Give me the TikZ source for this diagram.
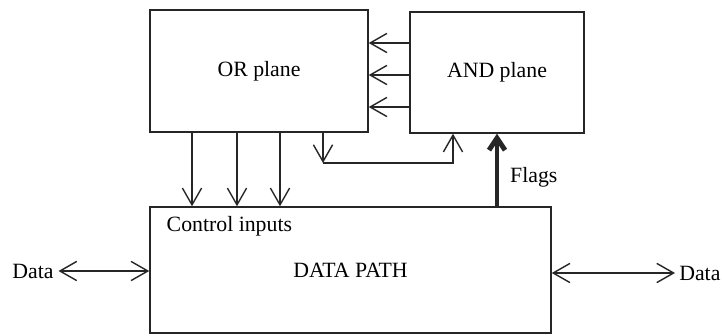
\documentclass[tikz,border=0pt]{standalone}
\usepackage{fontspec}
\setmainfont{Liberation Serif}
\usetikzlibrary{positioning,arrows.meta}

\begin{document}
\begin{tikzpicture}[
  x=0.025cm, y=-0.025cm,
  font=\fontsize{15.5}{17}\selectfont,
  every node/.style={align=center},
  blk/.style   ={rectangle, draw=black!85, line width=1pt, inner sep=0pt},
  arr/.style   ={-{Straight Barb[length=4.2mm,width=4.8mm]}, line width=1pt, draw=black!85},
  darr/.style  ={{Straight Barb[length=4.2mm,width=4.8mm]}-{Straight Barb[length=4.2mm,width=4.8mm]},
                 line width=1pt, draw=black!85},
  flag/.style  ={-{Straight Barb[length=3mm,width=4mm]}, line width=3.5pt, draw=black!85},
]
\useasboundingbox (0,0) rectangle (722,335);

% The three blocks
\node[blk, minimum width=5.45cm, minimum height=3.05cm]  (orp) at (259,71)    {OR plane};
\node[blk, minimum width=4.35cm, minimum height=3.025cm] (andp) at (497,72.5) {AND plane};
\node[blk, minimum width=10.025cm, minimum height=3.15cm] (dp) at (350.5,270) {DATA PATH};

\node[anchor=north west, inner sep=0pt] (ctl) at ([xshift=4.3mm,yshift=-2.5mm]dp.north west) {Control inputs};

% Data terminals
\node (dl) at (33,271) {Data};
\node[anchor=west, inner sep=0pt] (dr) at (679,273) {Data};

% AND plane to OR plane
\foreach \y in {43,75,107}
  \draw[arr] (andp.west |- 0,\y) -- (orp.east |- 0,\y);

% OR plane to control inputs
\foreach \x in {192,237,280}
  \draw[arr] (orp.south -| \x,0) -- (dp.north -| \x,0);

% feedback from OR plane back into AND plane
\coordinate (fb1) at (323,163);
\coordinate (fb2) at (453,163);
\draw[arr] (orp.south -| fb1) -- (fb1);
\draw[arr] (fb1) -- (fb2) -- (andp.south -| fb2);

% Flags
\draw[flag] (dp.north -| 497,0) -- (andp.south -| 497,0)
  node[pos=0.4, right=1.5mm] (flg) {Flags};

% data in/out
\draw[darr] (dl.east) -- (dp.west |- dl.east);
\draw[darr] (dp.east |- dr.west) -- ([xshift=-1mm]dr.west);

\end{tikzpicture}
\end{document}
